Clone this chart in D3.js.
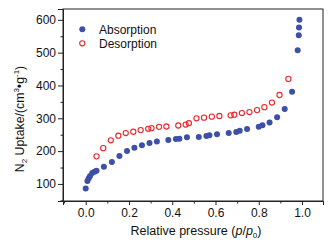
<!DOCTYPE html>
<html><head><meta charset="utf-8">
<script src="https://cdn.jsdelivr.net/npm/d3@7"></script>
<style>body{margin:0;background:#fff}svg{display:block}text{font-family:"Liberation Sans",Arial,sans-serif;fill:#111}</style>
</head><body>
<script>
const absP = [0.0,0.008,0.014,0.02,0.03,0.041,0.05,0.084,0.121,0.156,0.191,0.225,0.26,0.295,0.329,0.382,0.417,0.433,0.468,0.523,0.558,0.572,0.607,0.661,0.696,0.712,0.746,0.8,0.817,0.85,0.885,0.92,0.954,0.98,0.985,0.986,0.988];
const absV = [86,109,117,124,133,137,140,152,167,185,200,210,218,225,229,234,237,238,242,243,246,248,251,255,258,262,267,274,279,287,303,328,381,507,553,577,600];
const desP = [0.05,0.081,0.116,0.151,0.185,0.22,0.254,0.289,0.304,0.339,0.373,0.428,0.462,0.477,0.512,0.547,0.583,0.618,0.67,0.687,0.722,0.757,0.792,0.826,0.861,0.896,0.937];
const desV = [184,209,233,247,255,259,264,268,270,274,275,278,281,285,300,302,305,307,309,311,316,319,325,334,348,371,420];
const xTicks = [0.0,0.2,0.4,0.6,0.8,1.0];
const yTicks = [100,200,300,400,500,600];
const legendLabels = ["Absorption","Desorption"];

const W=332,H=242;
const L=63,R=323,T=9,B=201;
const svg=d3.select("body").append("svg").attr("width",W).attr("height",H);
const x=d3.scaleLinear().domain([-0.105,1.097]).range([L,R]);
const y=d3.scaleLinear().domain([48,633]).range([B,T]);

// frame
svg.append("rect").attr("x",L).attr("y",T).attr("width",R-L).attr("height",B-T)
  .attr("fill","none").attr("stroke","#222").attr("stroke-width",1);

// bottom axis
svg.append("g").attr("transform",`translate(0,${B})`)
  .call(d3.axisBottom(x).tickValues(xTicks).tickFormat(d3.format(".1f")).tickSize(4).tickPadding(3));
svg.append("g").attr("transform",`translate(0,${B})`)
  .call(d3.axisBottom(x).tickValues([-0.1,0.1,0.3,0.5,0.7,0.9]).tickFormat("").tickSize(2.5));
// left axis
svg.append("g").attr("transform",`translate(${L},0)`)
  .call(d3.axisLeft(y).tickValues(yTicks).tickSize(5).tickPadding(2));
svg.append("g").attr("transform",`translate(${L},0)`)
  .call(d3.axisLeft(y).tickValues([50,150,250,350,450,550]).tickFormat("").tickSize(2.5));
svg.selectAll(".domain").attr("stroke","#222");
svg.selectAll(".tick line").attr("stroke","#222");
svg.selectAll(".tick text").attr("font-size",12).attr("fill","#111")
  .style("font-family",'"Liberation Sans",Arial,sans-serif');

// points
svg.append("g").selectAll("circle").data(desP).join("circle")
  .attr("cx",(d)=>x(d)).attr("cy",(d,i)=>y(desV[i])).attr("r",2.6)
  .attr("fill","none").attr("stroke","#e8262c").attr("stroke-width",1.1);
svg.append("g").selectAll("circle").data(absP).join("circle")
  .attr("cx",(d)=>x(d)).attr("cy",(d,i)=>y(absV[i])).attr("r",3)
  .attr("fill","#3d4fa6");

// legend
const lg=svg.append("g");
lg.append("circle").attr("cx",82.3).attr("cy",29.3).attr("r",3).attr("fill","#3d4fa6");
lg.append("circle").attr("cx",82.3).attr("cy",43.3).attr("r",2.6).attr("fill","none").attr("stroke","#e8262c").attr("stroke-width",1.1);
lg.append("text").attr("x",99).attr("y",33.5).attr("font-size",12).text(legendLabels[0]);
lg.append("text").attr("x",99).attr("y",47.5).attr("font-size",12).text(legendLabels[1]);

// x label
const xl=svg.append("text").attr("x",(L+R)/2+3).attr("y",235).attr("text-anchor","middle").attr("font-size",12.5);
xl.append("tspan").text("Relative pressure (");
xl.append("tspan").attr("font-style","italic").text("p");
xl.append("tspan").text("/");
xl.append("tspan").attr("font-style","italic").text("p");
xl.append("tspan").attr("font-size",8).attr("dy",3).text("0");
xl.append("tspan").attr("dy",-3).text(")");

// y label
const yl=svg.append("text").attr("transform","translate(24,119) rotate(-90)").attr("text-anchor","middle").attr("font-size",12.3);
yl.append("tspan").text("N");
yl.append("tspan").attr("font-size",8).attr("dy",3).text("2");
yl.append("tspan").attr("dy",-3).text(" Uptake/(cm");
yl.append("tspan").attr("font-size",8).attr("dy",-5).text("3");
yl.append("tspan").attr("dy",5).text("\u2022g");
yl.append("tspan").attr("font-size",8).attr("dy",-5).text("-1");
yl.append("tspan").attr("dy",5).text(")");
</script>
</body></html>
